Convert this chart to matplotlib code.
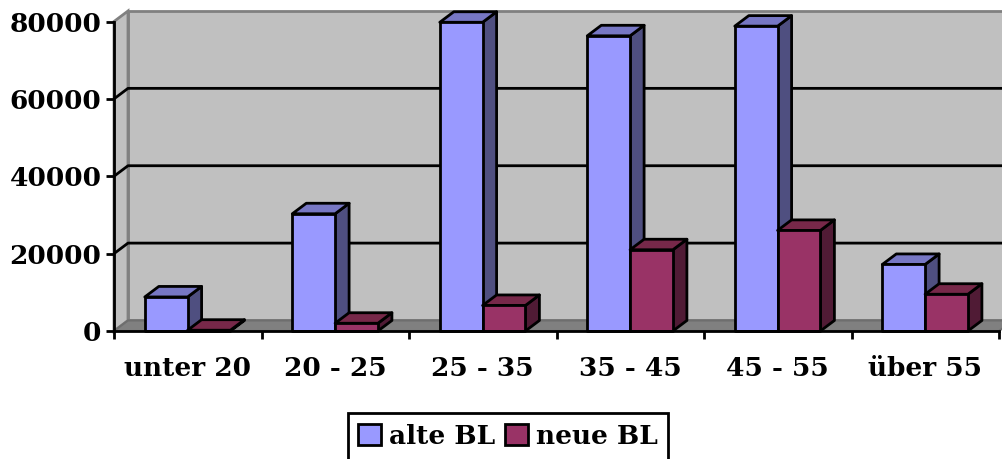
import matplotlib
matplotlib.use('Agg')
import matplotlib.pyplot as plt
import numpy as np
from matplotlib.patches import Polygon, Rectangle

plt.rcParams['font.family'] = 'DejaVu Serif'
plt.rcParams['font.weight'] = 'bold'
plt.rcParams['font.size'] = 19

categories = ['unter 20', '20 - 25', '25 - 35', '35 - 45', '45 - 55', 'über 55']
alte_bl = [8800, 30300, 79800, 76300, 78800, 17200]
neue_bl = [200, 2000, 6600, 21000, 26000, 9500]
yticks = [0, 20000, 40000, 60000, 80000]

W, H = 1002, 459
LEFT, RIGHT, TOP, BOTTOM = 114, 999, 21.5, 331

# 3d effect offsets, px converted to data units
DX = 14 / 147.5
DY = 10.5 / 77.25 * 20000
BAR_W = 42.8 / 147.5
GAP = 30.8 / 147.5

COLORS = {'alte': ('#9999ff', '#7777c4', '#4f4f80'),
          'neue': ('#993366', '#772849', '#501b35')}

fig = plt.figure(figsize=(W / 100, H / 100), dpi=100)
ax = fig.add_axes([LEFT / W, 1 - BOTTOM / H, (RIGHT - LEFT) / W, (BOTTOM - TOP) / H])
ax.set_xlim(0, len(categories))
ax.set_ylim(0, 80000)
ax.patch.set_visible(False)

# back wall, side wall, floor
xmax = len(categories)
ax.add_patch(Polygon([(DX, DY), (DX + xmax, DY), (DX + xmax, 80000 + DY), (DX, 80000 + DY)],
                     fc='#c0c0c0', ec='#808080', lw=2, clip_on=False, zorder=1))
ax.add_patch(Polygon([(0, 0), (DX, DY), (DX, 80000 + DY), (0, 80000)],
                     fc='#c0c0c0', ec='#808080', lw=2, clip_on=False, zorder=1))
ax.add_patch(Polygon([(0, 0), (xmax, 0), (xmax + DX, DY), (DX, DY)],
                     fc='#808080', ec='#6e6e6e', lw=1.5, clip_on=False, zorder=1))

for y in yticks[1:-1]:
    ax.plot([0, DX, xmax + DX], [y, y + DY, y + DY], color='black', lw=2,
            clip_on=False, zorder=2, solid_capstyle='butt')


def draw_bars(positions, values, cols):
    front, top, side = cols
    for x, v in zip(positions, values):
        ax.add_patch(Polygon([(x + BAR_W, 0), (x + BAR_W + DX, DY), (x + BAR_W + DX, v + DY), (x + BAR_W, v)],
                             fc=side, ec='black', lw=2, clip_on=False, zorder=3, joinstyle='round'))
        ax.add_patch(Polygon([(x, v), (x + BAR_W, v), (x + BAR_W + DX, v + DY), (x + DX, v + DY)],
                             fc=top, ec='black', lw=2, clip_on=False, zorder=3, joinstyle='round'))
        ax.add_patch(Rectangle((x, 0), BAR_W, v, fc=front, ec='black', lw=2,
                               clip_on=False, zorder=3, joinstyle='round'))


pos = np.arange(len(categories)) + GAP
draw_bars(pos, alte_bl, COLORS['alte'])
draw_bars(pos + BAR_W, neue_bl, COLORS['neue'])

for side in ['top', 'right']:
    ax.spines[side].set_visible(False)
for side in ['left', 'bottom']:
    ax.spines[side].set_linewidth(2)
    ax.spines[side].set_zorder(4)

ax.set_yticks(yticks)
ax.set_yticklabels([str(y) for y in yticks])
ax.set_xticks(np.arange(len(categories) + 1))
ax.set_xticklabels([])
ax.set_xticks(np.arange(len(categories)) + 0.5, labels=categories, minor=True)
ax.tick_params(axis='x', which='major', length=6, width=2, direction='out')
ax.tick_params(axis='x', which='minor', length=0, pad=18)
ax.tick_params(axis='y', length=6, width=2, pad=3)

# legend
handles = [Rectangle((0, 0), 1, 1, fc=COLORS['alte'][0], ec='black', lw=2),
           Rectangle((0, 0), 1, 1, fc=COLORS['neue'][0], ec='black', lw=2)]
leg = fig.legend(handles, ['alte BL', 'neue BL'], ncols=2, loc='center',
                 bbox_to_anchor=(508 / W, 1 - 436.5 / H), fancybox=False,
                 edgecolor='black', framealpha=1, handlelength=0.85, handleheight=0.85,
                 handletextpad=0.3, columnspacing=0.4, borderpad=0.4, borderaxespad=0)
leg.get_frame().set_linewidth(2)

fig.savefig('out.png', dpi=100)
